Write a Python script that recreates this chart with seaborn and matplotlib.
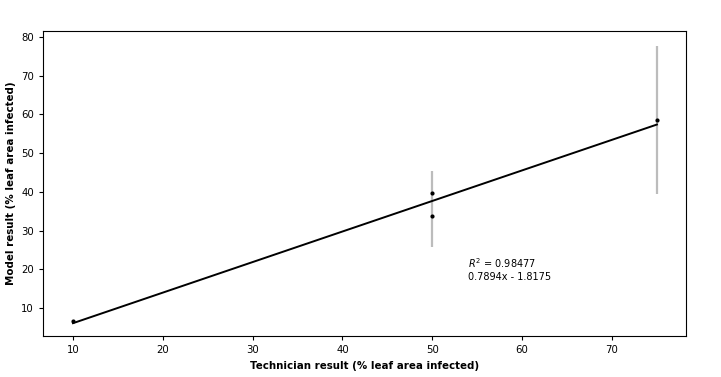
import matplotlib
matplotlib.use("Agg")
import matplotlib.pyplot as plt
import numpy as np
import pandas as pd
import seaborn as sns

# measured points
tech_x = [10, 50, 50, 75]
model_y = [6.7, 39.7, 33.8, 58.6]

# error bars (centre and half-width)
err_x = [50, 75]
err_center = [35.6, 58.6]
err_half = [9.8, 19.1]

# fitted line
slope = 0.7894
intercept = -1.8175
r_squared = 0.98477
fit_x = [10, 75]

fig = plt.figure(figsize=(7.21, 3.77), dpi=100)
ax = fig.add_axes([0.0596, 0.1088, 0.8919, 0.809])

ax.errorbar(err_x, err_center, yerr=err_half, fmt="none", ecolor="#bcbcbc",
            elinewidth=1.6, capsize=0, zorder=1)

fit_df = pd.DataFrame({"x": fit_x, "y": [slope * v + intercept for v in fit_x]})
sns.lineplot(data=fit_df, x="x", y="y", color="black", linewidth=1.4, ax=ax, zorder=2)

pts = pd.DataFrame({"x": tech_x, "y": model_y})
sns.scatterplot(data=pts, x="x", y="y", color="black", s=9, edgecolor="black",
                linewidth=0, ax=ax, zorder=3)

ax.text(54, 23.3, f"$R^2$ = {r_squared}\n{slope}x - {abs(intercept)}",
        fontsize=7, va="top", ha="left")

ax.set_xlim(6.66, 78.24)
ax.set_ylim(2.77, 81.55)
ax.set_xticks([10, 20, 30, 40, 50, 60, 70])
ax.set_yticks([10, 20, 30, 40, 50, 60, 70, 80])
ax.tick_params(labelsize=7.3, length=3)
ax.set_xlabel("Technician result (% leaf area infected)", fontsize=7.4, fontweight="bold")
ax.set_ylabel("Model result (% leaf area infected)", fontsize=7.4, fontweight="bold")

fig.savefig("out.png", dpi=100)
